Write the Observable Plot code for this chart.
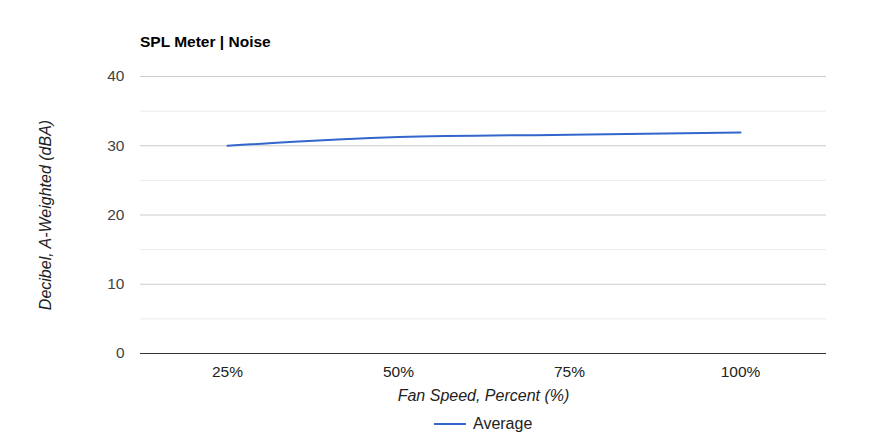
<!DOCTYPE html>
<html><head><meta charset="utf-8">
<script src="https://cdn.jsdelivr.net/npm/d3@7"></script>
<script src="https://cdn.jsdelivr.net/npm/@observablehq/plot@0.6"></script>
<style>
html,body{margin:0;padding:0;background:#fff;}
#wrap{position:relative;width:891px;height:447px;font-family:"Liberation Sans",Arial,sans-serif;}
#title{position:absolute;left:140px;top:33px;font-size:15.5px;font-weight:bold;color:#000;}
#legend{position:absolute;left:434px;top:415px;font-size:16px;color:#222;display:flex;align-items:center;}
#legend span.sw{display:inline-block;width:32px;height:2px;background:#3366cc;margin-right:7px;}
</style></head>
<body><div id="wrap"><div id="title">SPL Meter | Noise</div><div id="chart"></div><div id="legend"><span class="sw"></span>Average</div></div>
<script>
const categories = ["25%", "50%", "75%", "100%"];
const average = [30.0, 31.25, 31.6, 31.9];
const majorTicks = [0, 10, 20, 30, 40];
const minorTicks = [5, 15, 25, 35];

const data = categories.map((c, i) => ({speed: c, value: average[i]}));

const chart = Plot.plot({
  width: 891,
  height: 447,
  marginTop: 76,
  marginBottom: 94,
  marginLeft: 140,
  marginRight: 65,
  style: {fontFamily: "Liberation Sans, Arial, sans-serif", fontSize: "15.5px", background: "#fff"},
  x: {type: "point", domain: categories, padding: 0.5, label: null},
  y: {domain: [0, 40], label: null},
  marks: [
    Plot.ruleY(minorTicks, {stroke: "#ebebeb", strokeWidth: 1}),
    Plot.ruleY(majorTicks.filter(d => d !== 0), {stroke: "#cccccc", strokeWidth: 1}),
    Plot.axisY(majorTicks, {tickSize: 0, tickPadding: 16, fill: "#444", fontSize: 15.5, label: null}),
    Plot.axisX({tickSize: 0, tickPadding: 12, fill: "#222", fontSize: 15.5, label: null}),
    Plot.ruleY([0], {stroke: "#333", strokeWidth: 1}),
    Plot.line(data, {x: "speed", y: "value", stroke: "#3366cc", strokeWidth: 2, curve: "monotone-x"}),
    Plot.text(["Fan Speed, Percent (%)"], {frameAnchor: "bottom", dy: 47, fontStyle: "italic", fill: "#222", fontSize: 16}),
    Plot.text(["Decibel, A-Weighted (dBA)"], {frameAnchor: "left", dx: -95, rotate: -90, textAnchor: "middle", fontStyle: "italic", fill: "#222", fontSize: 16})
  ]
});
document.getElementById("chart").appendChild(chart);
</script>
</body></html>
